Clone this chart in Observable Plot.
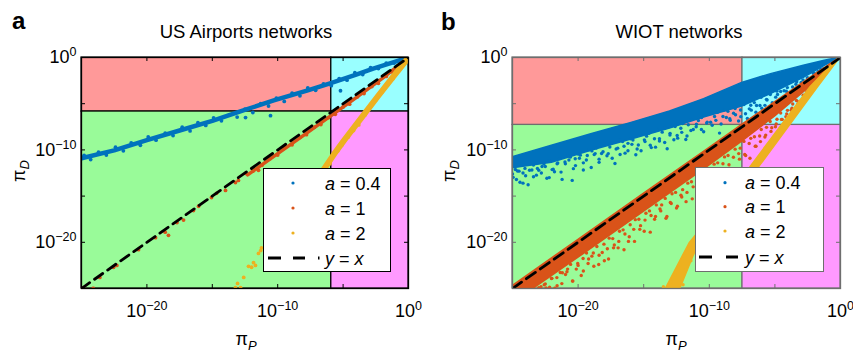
<!DOCTYPE html>
<html><head><meta charset="utf-8">
<script src="https://cdn.jsdelivr.net/npm/d3@7"></script>
<script src="https://cdn.jsdelivr.net/npm/@observablehq/plot@0.6"></script>
<style>
body{margin:0;background:#fff;}
#wrap{position:relative;width:853px;height:352px;overflow:hidden;}
#wrap svg{position:absolute;top:0;}
</style></head><body><div id="wrap"></div>
<script>
// ---------- shared axis data (log10 exponents) ----------
const domainExp = [-25, 0];
const labelTickExp = [-20, -10, 0];
const minorTickExp = [-20, -15, -10, -5];
const diagExp = [-25, 0];
const panelTitles = ["US Airports networks", "WIOT networks"];
const panelLetters = ["a", "b"];
const legendValues = ["0.4", "1", "2"];
const regionFill = ["#ff9999", "#99ffff", "#99fb99", "#ff99ff"];
const seriesColor = ["#0072BD", "#D95319", "#EDB120"];

// ---------- panel a : US Airports (log10 pi_P, log10 pi_D) ----------
const airBound = [-5.9, -5.85];
const airBlueCoreP = [-25, -22.5, -20, -17.5, -15, -12.8, -10.3, -7.7, -6.0, -4.0, -2.7, -1.0, 0];
const airBlueCoreD = [-10.9, -10.05, -8.95, -7.9, -6.85, -5.8, -4.65, -3.55, -2.8, -1.85, -1.2, -0.45, 0];
const airBlueP = [-24.8,-24.3,-23.7,-23.1,-22.4,-21.8,-21.2,-20.5,-19.9,-19.3,-18.6,-18.0,-17.3,-16.7,-16.1,-15.5,-14.9,-14.3,-13.7,-13.1,-12.5,-12.46,-11.9,-11.3,-10.55,-10.7,-10.1,-9.5,-8.9,-8.3,-7.7,-7.1,-6.5,-5.9,-5.2,-5.3,-4.7,-4.1,-3.5,-2.9,-2.3,-1.7,-1.1,-0.5];
const airBlueD = [-10.6,-11.05,-10.25,-10.55,-9.7,-10.1,-9.25,-9.5,-8.6,-8.95,-8.2,-8.45,-7.55,-7.95,-7.05,-7.35,-6.55,-6.85,-6.2,-6.45,-5.6,-6.5,-5.95,-5.0,-6.3,-5.25,-4.4,-4.75,-3.85,-4.15,-3.3,-3.55,-2.85,-3.05,-3.6,-2.3,-2.45,-1.65,-1.85,-1.1,-1.2,-0.6,-0.6,-0.15];
const airRedCoreP = [-12.3, -8, -4, -2, 0];
const airRedCoreD = [-12.7, -8.4, -4.35, -2.25, 0];
const airRedP = [-24.85,-24.1,-23.6,-22.55,-22.3,-20.64,-19.34,-18.6,-18.35,-17.7,-17.2,-16.44,-16.05,-15.06,-14.68,-13.99,-13.23,-13.0,-12.46,-11.47,-11.9,-11.2,-10.6,-10.0,-9.5,-8.9,-8.3,-7.8,-7.2,-6.7,-6.1,-5.6,-5.0,-4.5,-3.9,-3.4,-2.8,-2.3,-1.7,-1.2,-0.6];
const airRedD = [-24.9,-25.0,-23.8,-22.7,-22.5,-20.8,-19.5,-18.9,-19.25,-17.86,-17.6,-16.56,-16.1,-15.15,-14.7,-14.39,-13.53,-13.3,-12.55,-12.2,-12.3,-11.65,-10.95,-10.55,-9.8,-9.45,-8.65,-8.35,-7.55,-7.25,-6.5,-6.15,-5.35,-5.05,-4.25,-3.9,-3.15,-2.8,-2.05,-1.6,-0.9];
const airYelCoreP = [-7.6, -6.57, -5.66, -4.89, -3.59, -2.37, -1.15, 0];
const airYelCoreD = [-14.3, -12.3, -10.4, -8.9, -6.5, -4.25, -2.05, 0];
const airYelP = [-13.23,-12.84,-13.07,-12.6,-12.23,-12.0,-11.85,-11.7,-11.47,-11.3,-11.24,-6.3,-6.0,-5.4,-5.1,-4.6,-4.2,-3.8,-3.3,-2.9,-2.5,-2.0,-1.6,-1.2,-0.7,-0.3];
const airYelD = [-24.9,-24.9,-24.45,-23.8,-22.6,-22.7,-22.2,-22.5,-21.2,-20.9,-20.6,-12.0,-11.5,-10.1,-9.5,-8.6,-7.9,-7.3,-6.2,-5.3,-4.6,-3.7,-3.0,-2.3,-1.4,-0.6];

// ---------- panel b : WIOT ----------
const wiotBound = [-7.47, -7.3];
const wiotBlueBandP = [-25, -22, -19, -16, -13, -10.4, -7.5, -5.3, -2.8, -1.2, 0];
const wiotBlueBandHi = [-10.8, -9.55, -8.3, -7.1, -5.85, -4.5, -2.75, -1.8, -0.9, -0.35, 0];
const wiotBlueBandLo = [-12.0, -11.4, -10.1, -8.9, -7.7, -6.5, -5.3, -3.95, -2.2, -0.9, 0];
const wiotBlueP = [-25.0,-24.7,-24.5,-24.2,-24.0,-23.7,-23.4,-23.1,-22.8,-22.5,-22.2,-21.9,-21.6,-21.3,-21.0,-20.7,-20.45,-20.2,-19.9,-19.6,-19.3,-19.0,-18.7,-18.4,-18.1,-17.7,-17.4,-17.1,-16.8,-16.5,-16.2,-15.9,-15.5,-15.2,-14.9,-14.5,-14.1,-13.8,-13.4,-13.0,-12.7,-12.45,-12.1,-11.7,-11.4,-11.0,-10.6,-10.2,-9.9,-9.5,-9.1,-8.7,-8.4,-8.0,-7.6,-7.1,-6.8,-6.4,-6.0,-5.6,-5.2,-4.8,-4.3,-3.9,-3.4,-3.0,-2.5,-2.0,-1.5];
const wiotBlueD = [-12.6,-13.2,-12.3,-13.6,-12.8,-12.2,-12.9,-12.0,-12.5,-11.8,-13.0,-12.1,-11.5,-12.4,-11.3,-11.1,-13.3,-11.7,-10.9,-11.4,-10.6,-11.9,-10.4,-11.0,-10.2,-10.4,-10.9,-9.9,-10.5,-9.6,-10.1,-9.4,-9.9,-10.1,-9.1,-9.5,-9.7,-8.8,-9.2,-8.4,-8.9,-8.44,-8.1,-8.5,-7.9,-7.5,-7.8,-7.1,-7.0,-6.8,-7.2,-6.5,-6.8,-6.2,-6.4,-6.6,-5.7,-5.2,-5.5,-4.6,-4.9,-4.0,-3.6,-3.9,-2.9,-2.7,-2.2,-1.7,-1.3];
const wiotBlueExtra = [[-24.78,-12.12],[-24.95,-12.97],[-24.62,-12.28],[-24.43,-13.5],[-24.05,-12.0],[-24.2,-12.5],[-23.52,-12.17],[-23.81,-13.77],[-23.4,-11.63],[-23.18,-12.73],[-22.75,-11.8],[-23.0,-12.2],[-22.61,-11.52],[-22.38,-13.07],[-22.2,-11.13],[-21.98,-12.13],[-21.55,-11.42],[-21.8,-12.37],[-21.41,-10.94],[-21.22,-13.19],[-20.76,-10.66],[-20.97,-11.51],[-20.58,-10.78],[-20.36,-12.03],[-20.0,-10.45],[-20.22,-10.95],[-19.83,-10.57],[-19.6,-12.17],[-19.18,-9.99],[-19.37,-11.09],[-18.95,-10.11],[-18.77,-10.51],[-18.62,-9.8],[-18.4,-11.35],[-18.03,-9.39],[-18.21,-10.39],[-17.58,-9.68],[-17.8,-10.63],[-17.42,-9.22],[-17.19,-11.47],[-16.8,-8.96],[-16.98,-9.81],[-16.61,-9.1],[-16.42,-10.35],[-16.0,-8.79],[-16.2,-9.29],[-15.82,-8.93],[-15.6,-10.53],[-15.25,-8.37],[-15.41,-9.47],[-14.78,-8.51],[-14.95,-8.91],[-14.6,-8.2],[-14.42,-9.75],[-14.02,-7.79],[-14.18,-8.79],[-13.59,-8.08],[-13.8,-9.03],[-13.4,-7.62],[-13.21,-9.87],[-12.83,-7.36],[-12.99,-8.21],[-12.6,-7.48],[-12.41,-8.73],[-12.04,-7.15],[-12.17,-7.65],[-11.6,-7.28],[-11.79,-8.88],[-11.37,-6.7],[-11.22,-7.8],[-10.83,-6.82],[-10.98,-7.22],[-10.59,-6.49],[-10.43,-8.04],[-10.02,-6.09],[-10.16,-6.99],[-9.6,-6.38],[-9.78,-7.33],[-9.37,-5.93],[-9.22,-8.18],[-8.84,-5.68],[-8.96,-6.38],[-8.58,-5.83],[-8.44,-6.63],[-8.03,-5.53],[-8.15,-6.03],[-7.62,-5.68],[-7.77,-6.88],[-7.36,-5.09],[-7.24,-6.09],[-6.84,-5.16],[-6.95,-5.56],[-6.57,-4.88],[-6.45,-5.93],[-6.05,-4.3],[-6.14,-5.2],[-5.64,-4.53],[-5.76,-5.18],[-5.35,-4.0],[-5.24,-5.35],[-4.85,-3.64],[-4.94,-4.29],[-4.56,-3.67],[-4.45,-4.42],[-4.05,-3.26],[-4.13,-3.66],[-3.65,-3.19],[-3.74,-3.99],[-3.34,-2.63],[-3.27,-3.33],[-2.86,-2.42],[-2.93,-2.97],[-2.53,-2.2],[-2.46,-2.5],[-2.07,-1.72],[-2.13,-2.15],[-1.7,-1.5],[-1.3,-1.2]];
const wiotRedBandP = [-25, -20, -15, -10, -7.5, -5, -2.5, 0];
const wiotRedBandHi = [-24.75, -19.75, -14.75, -9.8, -7.3, -4.85, -2.4, 0];
const wiotRedBandLo = [-26.6, -21.7, -16.7, -11.7, -9.1, -6.4, -3.4, 0];
const wiotRedP = [-23.5,-23.0,-22.5,-22.0,-21.6,-21.2,-20.8,-20.4,-20.0,-19.6,-19.2,-18.8,-18.4,-18.0,-17.68,-17.3,-16.9,-16.5,-16.1,-15.7,-15.3,-14.9,-14.5,-14.1,-13.7,-13.3,-12.9,-12.5,-12.1,-11.7,-11.3,-10.9,-10.5,-10.1,-9.7,-9.3,-8.9,-8.5,-8.1,-7.7,-7.3,-6.9,-6.5,-6.1,-5.7,-5.3,-4.9,-4.5,-4.1,-3.7,-3.2,-2.7,-2.2];
const wiotRedD = [-25.0,-24.9,-24.5,-23.9,-24.7,-23.3,-22.9,-24.2,-22.5,-23.1,-21.8,-22.6,-21.4,-22.0,-21.8,-20.6,-19.9,-20.8,-19.4,-19.9,-18.6,-17.6,-18.9,-17.2,-16.6,-17.4,-15.8,-16.3,-15.1,-14.6,-15.3,-13.9,-14.4,-13.2,-12.8,-13.5,-12.1,-11.6,-12.3,-11.0,-10.5,-10.9,-9.6,-9.1,-8.4,-8.0,-7.2,-6.7,-6.1,-5.5,-4.8,-4.1,-3.3];
const wiotRedExtra = [[-22.83,-24.8],[-22.58,-24.6],[-22.44,-24.95],[-22.03,-23.91],[-22.17,-24.86],[-21.62,-23.82],[-21.77,-24.97],[-21.36,-23.27],[-21.24,-24.47],[-20.85,-23.18],[-20.96,-23.48],[-20.57,-22.39],[-20.43,-24.19],[-20.03,-22.3],[-20.14,-22.9],[-19.62,-21.75],[-19.76,-23.6],[-19.36,-21.15],[-19.24,-22.3],[-18.84,-21.15],[-18.95,-21.5],[-18.57,-20.45],[-18.43,-22.4],[-18.03,-20.2],[-18.16,-21.1],[-17.63,-19.55],[-17.77,-20.7],[-17.36,-19.6],[-17.24,-20.3],[-16.84,-18.8],[-16.95,-20.6],[-16.57,-18.65],[-16.43,-19.1],[-16.03,-18.1],[-16.16,-19.9],[-15.64,-17.55],[-15.76,-18.6],[-15.37,-17.5],[-15.24,-18.2],[-14.83,-16.85],[-14.96,-18.8],[-14.56,-16.6],[-14.44,-17.1],[-14.04,-15.95],[-14.17,-17.5],[-13.63,-15.95],[-13.76,-16.4],[-13.36,-15.25],[-13.23,-17.2],[-12.84,-14.75],[-12.97,-15.7],[-12.57,-14.6],[-12.43,-16.1],[-12.03,-14.3],[-12.16,-14.9],[-11.64,-13.6],[-11.77,-15.6],[-11.36,-13.45],[-11.23,-14.0],[-10.84,-12.75],[-10.96,-14.3],[-10.57,-12.75],[-10.43,-13.1],[-10.03,-12.1],[-10.16,-13.9],[-9.63,-11.54],[-9.77,-12.5],[-9.36,-11.4],[-9.24,-12.7],[-8.84,-10.76],[-8.96,-11.5],[-8.57,-10.6],[-8.43,-12.0],[-8.03,-9.92],[-8.16,-10.8],[-7.64,-9.81],[-7.76,-10.4],[-7.36,-9.08],[-7.23,-10.6],[-6.84,-8.75],[-6.96,-9.3],[-6.56,-8.57],[-6.44,-9.6],[-6.04,-7.79],[-6.16,-8.5],[-5.64,-7.56],[-5.76,-8.6],[-5.36,-6.92],[-5.24,-7.6],[-4.84,-6.68],[-4.96,-7.5],[-4.56,-6.0],[-4.44,-6.7],[-4.04,-5.72],[-4.16,-6.4],[-3.64,-5.04],[-3.76,-5.7],[-3.36,-4.66],[-3.24,-5.0],[-2.84,-4.08],[-2.96,-4.7],[-2.56,-3.65],[-2.44,-4.1],[-2.1,-3.05],[-1.7,-2.55],[-1.3,-1.95]];
const wiotYelBandD = [0, -3.21, -6.09, -8.98, -11.87, -16, -20.1, -25];
const wiotYelBandLeft = [-0.1, -2.29, -3.81, -5.34, -6.86, -9.1, -11.5, -13.3];
const wiotYelBandRight = [0, -1.7, -3.2, -4.7, -6.2, -8.4, -10.8, -12.2];
const wiotYelP = [-13.5,-12.9,-12.0,-12.6,-11.8,-12.2,-11.4,-11.9,-11.0];
const wiotYelD = [-24.8,-24.3,-24.6,-23.5,-23.0,-22.4,-22.0,-21.5,-21.2];

// ---------- helpers ----------
const FONT = '"Liberation Sans", Arial, Helvetica, sans-serif';
const E = e => Math.pow(10, e);
const pts = (P, D) => P.map((p, i) => ({x: E(p), y: E(D[i])}));
const pairPts = arr => arr.map(([p, d]) => ({x: E(p), y: E(d)}));
const bandY = (P, hi, lo) => P.map((p, i) => ({x: E(p), y1: E(lo[i]), y2: E(hi[i])}));
const bandX = (D, l, r) => D.map((d, i) => ({y: E(d), x1: E(l[i]), x2: E(r[i])}));
const NS = "http://www.w3.org/2000/svg";

function panel(o) {
  const H = 352, mt = 57, mb = 64;
  const iw = o.width - o.ml - o.mr, ih = H - mt - mb;
  const lo = E(domainExp[0]), hi = E(domainExp[1]);
  const bx = E(o.bound[0]), by = E(o.bound[1]);
  const regions = [
    {x1: lo, x2: bx, y1: by, y2: hi, fill: regionFill[0]},
    {x1: bx, x2: hi, y1: by, y2: hi, fill: regionFill[1]},
    {x1: lo, x2: bx, y1: lo, y2: by, fill: regionFill[2]},
    {x1: bx, x2: hi, y1: lo, y2: by, fill: regionFill[3]}
  ];
  const fmt = d => "10^" + Math.round(Math.log10(d));
  const minor = minorTickExp.map(E);
  const diag = diagExp.map(e => ({x: E(e), y: E(e)}));
  const svg = Plot.plot({
    width: o.width, height: H,
    marginLeft: o.ml, marginRight: o.mr, marginTop: mt, marginBottom: mb,
    style: {fontFamily: FONT, fontSize: "18px", background: "transparent", overflow: "visible"},
    x: {type: "log", domain: [lo, hi]},
    y: {type: "log", domain: [lo, hi]},
    color: {type: "identity"},
    marks: [
      Plot.rect(regions, {x1: "x1", x2: "x2", y1: "y1", y2: "y2", fill: "fill", stroke: o.border, strokeWidth: 1.2}),
      ...o.marks,
      Plot.line(diag, {x: "x", y: "y", stroke: "#000", strokeWidth: 2.8, strokeDasharray: o.dash, clip: true}),
      Plot.frame({stroke: o.border, strokeWidth: 1.3}),
      Plot.tickX(minor, {x: d => d, insetTop: ih - 4, stroke: o.border}),
      Plot.tickX(minor, {x: d => d, insetBottom: ih - 4, stroke: o.border}),
      Plot.tickY(minor, {y: d => d, insetRight: iw - 4, stroke: o.border}),
      Plot.tickY(minor, {y: d => d, insetLeft: iw - 4, stroke: o.border}),
      Plot.axisX(labelTickExp.map(E), {tickSize: 0, tickPadding: 16, tickFormat: fmt, label: null, fontSize: 18, fill: "#000"}),
      Plot.axisY(labelTickExp.map(E), {tickSize: 0, tickPadding: 5, tickFormat: fmt, label: null, fontSize: 18, fill: "#000"})
    ]
  });
  svg.querySelectorAll("text").forEach(t => {
    const m = (t.textContent || "").match(/^10\^(-?\d+)$/);
    if (!m) return;
    t.textContent = "10";
    const ts = document.createElementNS(NS, "tspan");
    ts.setAttribute("dy", "-7");
    ts.setAttribute("font-size", "12.5");
    ts.textContent = m[1].replace("-", "\u2212");
    t.appendChild(ts);
  });
  svg.style.left = o.left + "px";
  return svg;
}

const wrap = document.getElementById("wrap");

wrap.appendChild(panel({
  left: 0, width: 430, ml: 81, mr: 22, bound: airBound, border: "#000", dash: "10,6",
  marks: [
    Plot.line(pts(airBlueCoreP, airBlueCoreD), {x: "x", y: "y", stroke: seriesColor[0], strokeWidth: 4.5, clip: true}),
    Plot.dot(pts(airBlueP, airBlueD), {x: "x", y: "y", r: 1.9, fill: seriesColor[0], clip: true}),
    Plot.line(pts(airRedCoreP, airRedCoreD), {x: "x", y: "y", stroke: seriesColor[1], strokeWidth: 3.5, clip: true}),
    Plot.dot(pts(airRedP, airRedD), {x: "x", y: "y", r: 1.9, fill: seriesColor[1], clip: true}),
    Plot.line(pts(airYelCoreP, airYelCoreD), {x: "x", y: "y", stroke: seriesColor[2], strokeWidth: 6, clip: true}),
    Plot.dot(pts(airYelP, airYelD), {x: "x", y: "y", r: 1.9, fill: seriesColor[2], clip: true})
  ]
}));

wrap.appendChild(panel({
  left: 430, width: 423, ml: 82, mr: 13, bound: wiotBound, border: "#6e6e6e", dash: "11,6",
  marks: [
    Plot.areaY(bandY(wiotBlueBandP, wiotBlueBandHi, wiotBlueBandLo), {x: "x", y1: "y1", y2: "y2", fill: seriesColor[0], stroke: seriesColor[0], strokeWidth: 1.5, clip: true}),
    Plot.dot(pts(wiotBlueP, wiotBlueD).concat(pairPts(wiotBlueExtra)), {x: "x", y: "y", r: 1.7, fill: seriesColor[0], clip: true}),
    Plot.areaY(bandY(wiotRedBandP, wiotRedBandHi, wiotRedBandLo), {x: "x", y1: "y1", y2: "y2", fill: seriesColor[1], stroke: seriesColor[1], strokeWidth: 1.5, clip: true}),
    Plot.dot(pts(wiotRedP, wiotRedD).concat(pairPts(wiotRedExtra)), {x: "x", y: "y", r: 1.7, fill: seriesColor[1], clip: true}),
    Plot.areaX(bandX(wiotYelBandD, wiotYelBandLeft, wiotYelBandRight), {y: "y", x1: "x1", x2: "x2", fill: seriesColor[2], stroke: seriesColor[2], strokeWidth: 1.5, clip: true}),
    Plot.dot(pts(wiotYelP, wiotYelD), {x: "x", y: "y", r: 1.7, fill: seriesColor[2], clip: true})
  ]
}));

// ---------- titles, axis labels, legends ----------
const ov = d3.select(wrap).append("svg").attr("width", 853).attr("height", 352)
  .style("left", "0px").style("pointer-events", "none").style("font-family", FONT);

const panelGeo = [
  {letterX: 12, letterY: 29, titleX: 246, xLabX: 246, yLabX: 25,
   legend: {x: 263.5, y: 168.5, w: 127, h: 103, stroke: "#000", rows: [183, 208, 233, 258], dotX: 293, textX: 325, dash: [268, 281, 293, 305], dashDot: 318}},
  {letterX: 441, letterY: 30, titleX: 679, xLabX: 676, yLabX: 455,
   legend: {x: 695.5, y: 167.5, w: 128, h: 104, stroke: "#6e6e6e", rows: [182.7, 206.7, 231, 257], dotX: 725, textX: 745, dash: [699, 712, 726, 738], dashDot: null}}
];

panelGeo.forEach((g, i) => {
  ov.append("text").attr("x", g.letterX).attr("y", g.letterY).attr("font-size", 24).attr("font-weight", "bold").text(panelLetters[i]);
  ov.append("text").attr("x", g.titleX).attr("y", 38).attr("font-size", 18.5).attr("text-anchor", "middle").text(panelTitles[i]);
  const xl = ov.append("text").attr("x", g.xLabX).attr("y", 345).attr("font-size", 18).attr("text-anchor", "middle");
  xl.append("tspan").text("\u03C0");
  xl.append("tspan").attr("font-size", 13).attr("font-style", "italic").attr("dy", 5).text("P");
  const yl = ov.append("text").attr("transform", `translate(${g.yLabX},171) rotate(-90)`).attr("font-size", 18).attr("text-anchor", "middle");
  yl.append("tspan").text("\u03C0");
  yl.append("tspan").attr("font-size", 13).attr("font-style", "italic").attr("dy", 4).text("D");

  const L = g.legend;
  ov.append("rect").attr("x", L.x).attr("y", L.y).attr("width", L.w).attr("height", L.h).attr("fill", "#fff").attr("stroke", L.stroke).attr("stroke-width", 1);
  legendValues.forEach((v, k) => {
    ov.append("circle").attr("cx", L.dotX).attr("cy", L.rows[k]).attr("r", 1.6).attr("fill", seriesColor[k]);
    const t = ov.append("text").attr("x", L.textX).attr("y", L.rows[k] + 6.5).attr("font-size", 18);
    t.append("tspan").attr("font-style", "italic").text("a");
    t.append("tspan").text(" = " + v);
  });
  const ry = L.rows[3];
  ov.append("line").attr("x1", L.dash[0]).attr("x2", L.dash[1]).attr("y1", ry).attr("y2", ry).attr("stroke", "#000").attr("stroke-width", 3);
  ov.append("line").attr("x1", L.dash[2]).attr("x2", L.dash[3]).attr("y1", ry).attr("y2", ry).attr("stroke", "#000").attr("stroke-width", 3);
  if (L.dashDot) ov.append("line").attr("x1", L.dashDot).attr("x2", L.dashDot + 1.5).attr("y1", ry).attr("y2", ry).attr("stroke", "#000").attr("stroke-width", 3);
  const ty = ov.append("text").attr("x", L.textX).attr("y", ry + 6.5).attr("font-size", 18);
  ty.append("tspan").attr("font-style", "italic").text("y");
  ty.append("tspan").text(" = ");
  ty.append("tspan").attr("font-style", "italic").text("x");
});
</script></body></html>
